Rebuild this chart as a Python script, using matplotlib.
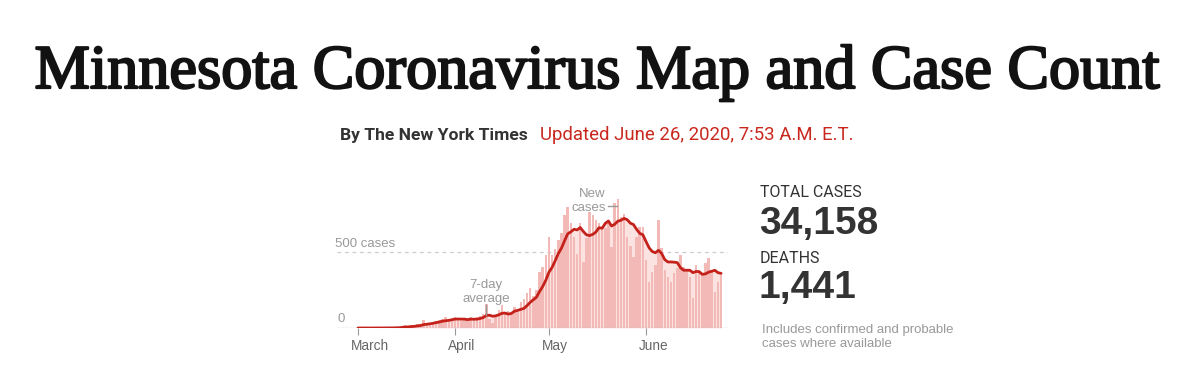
import numpy as np
import pandas as pd
import matplotlib
matplotlib.use("Agg")
import matplotlib.pyplot as plt
import matplotlib.dates as mdates
import matplotlib.patheffects as pe
from matplotlib.lines import Line2D

W, H = 1200, 372

# daily new cases, March 1 - June 25 2020
dates = pd.date_range("2020-03-01", "2020-06-25", freq="D")
cases_march = [0, 0, 0, 0, 0, 1, 1, 0, 0, 1, 2, 0, 5, 4, 14, 19, 6, 17, 12, 26,
               22, 55, 35, 27, 40, 45, 52, 60, 75, 53, 55]
cases_april = [70, 50, 47, 60, 50, 75, 52, 73, 80, 90, 158, 60, 30, 70, 120,
               150, 100, 110, 90, 135, 105, 170, 190, 230, 260, 210, 250, 370,
               400, 480]
cases_may = [600, 480, 520, 578, 622, 742, 797, 688, 600, 490, 690, 436, 590,
             764, 742, 710, 688, 665, 660, 700, 534, 820, 852, 730, 753, 600,
             540, 470, 600, 666, 666]
cases_june = [447, 304, 370, 414, 710, 524, 381, 338, 305, 360, 393, 480, 403,
              381, 338, 195, 414, 381, 360, 425, 458, 381, 239, 305, 348]

month_ticks = ["2020-03-01", "2020-04-01", "2020-05-01", "2020-06-01"]
month_labels = ["March", "April", "May", "June"]
ref_value = 500

total_cases = "34,158"
total_deaths = "1,441"

RED = "#c4211b"
BAR = "#f2b9b7"
FILL = "#fbe3e2"
GRAY = "#999999"
DARK = "#333333"

NARROW = ["Liberation Sans Narrow", "Roboto", "DejaVu Sans"]
SANS = ["Liberation Sans", "DejaVu Sans"]


def px(x, y):
    return x / W, 1 - y / H


new_cases = pd.Series(cases_march + cases_april + cases_may + cases_june, index=dates)
avg7 = new_cases.rolling(7, min_periods=1).mean()

fig = plt.figure(figsize=(W / 100, H / 100), dpi=100)

# chart area: baseline at y=328px, top at y=190px
ax = fig.add_axes([337 / W, 44 / H, (728 - 337) / W, (328 - 190) / H])
ax.fill_between(dates, avg7.values, color=FILL, lw=0, zorder=1)
ax.bar(dates, new_cases.values, width=0.8, color=BAR, lw=0, zorder=2)
ax.plot(dates, avg7.values, color=RED, lw=2.0, zorder=4, solid_capstyle="round")

ax.axhline(ref_value, color="#cccccc", lw=0.9, ls=(0, (3, 3)), zorder=0)
ax.axhline(0, color="#bbbbbb", lw=0.9, zorder=3)

d0 = dates[0]
ax.set_xlim(d0 - pd.Timedelta(days=6.7), d0 + pd.Timedelta(days=118.2))
ax.set_ylim(0, 908)
for s in ax.spines.values():
    s.set_visible(False)
ax.set_yticks([])
ax.set_xticks(pd.to_datetime(month_ticks))
ax.set_xticklabels([])
ax.tick_params(axis="x", length=5, width=0.8, color="#999999")

# month labels, starting a little left of each tick
for m, lab in zip(month_ticks, month_labels):
    xm = mdates.date2num(pd.Timestamp(m))
    ax.annotate(lab, xy=(xm, 0), xycoords=("data", "axes fraction"),
                xytext=(-7, -22), textcoords="offset pixels",
                ha="left", va="baseline", fontsize=9.8, color="#666666",
                family=SANS)

fig.text(*px(335, 247), f"{ref_value} cases", fontsize=9.5, color=GRAY,
         ha="left", va="baseline", family=SANS)
fig.text(*px(337, 322), "0", fontsize=9.5, color=GRAY,
         ha="left", va="baseline", family=SANS)

# annotations
fig.text(*px(486, 288), "7-day", fontsize=9.5, color=GRAY, ha="center",
         va="baseline", family=SANS)
fig.text(*px(486, 302), "average", fontsize=9.5, color=GRAY, ha="center",
         va="baseline", family=SANS)
fig.add_artist(Line2D([486 / W, 486 / W], [1 - 305 / H, 1 - 315 / H],
                      color=GRAY, lw=1.0, transform=fig.transFigure))
fig.text(*px(605, 197), "New", fontsize=9.5, color=GRAY, ha="right",
         va="baseline", family=SANS)
fig.text(*px(606, 211), "cases", fontsize=9.5, color=GRAY, ha="right",
         va="baseline", family=SANS)
fig.add_artist(Line2D([608 / W, 617 / W], [1 - 206 / H, 1 - 206 / H],
                      color=GRAY, lw=1.0, transform=fig.transFigure))

# headline
fig.text(*px(597, 88), "Minnesota Coronavirus Map and Case Count",
         fontsize=44.8, color="#121212", ha="center", va="baseline",
         family=["Liberation Serif", "DejaVu Serif"],
         path_effects=[pe.withStroke(linewidth=1.6, foreground="#121212")])
fig.text(*px(340, 140), "By The New York Times", fontsize=12.6, color=DARK,
         weight="bold", ha="left", va="baseline", family=NARROW)
fig.text(*px(540, 140), "Updated June 26, 2020, 7:53 A.M. E.T.", fontsize=13.4,
         color="#c8281e", ha="left", va="baseline", family=NARROW)

# totals
fig.text(*px(760, 197), "TOTAL CASES", fontsize=11.5, color=DARK,
         ha="left", va="baseline", family=NARROW)
fig.text(*px(759, 234), total_cases, fontsize=28, color=DARK, weight="bold",
         ha="left", va="baseline", family=SANS)
fig.text(*px(760, 263), "DEATHS", fontsize=11.5, color=DARK,
         ha="left", va="baseline", family=NARROW)
fig.text(*px(759, 298), total_deaths, fontsize=28, color=DARK, weight="bold",
         ha="left", va="baseline", family=SANS)
fig.text(*px(762, 333), "Includes confirmed and probable", fontsize=9.5,
         color=GRAY, ha="left", va="baseline", family=SANS)
fig.text(*px(762, 347), "cases where available", fontsize=9.5,
         color=GRAY, ha="left", va="baseline", family=SANS)

fig.savefig("out.png", dpi=100, facecolor="white")
